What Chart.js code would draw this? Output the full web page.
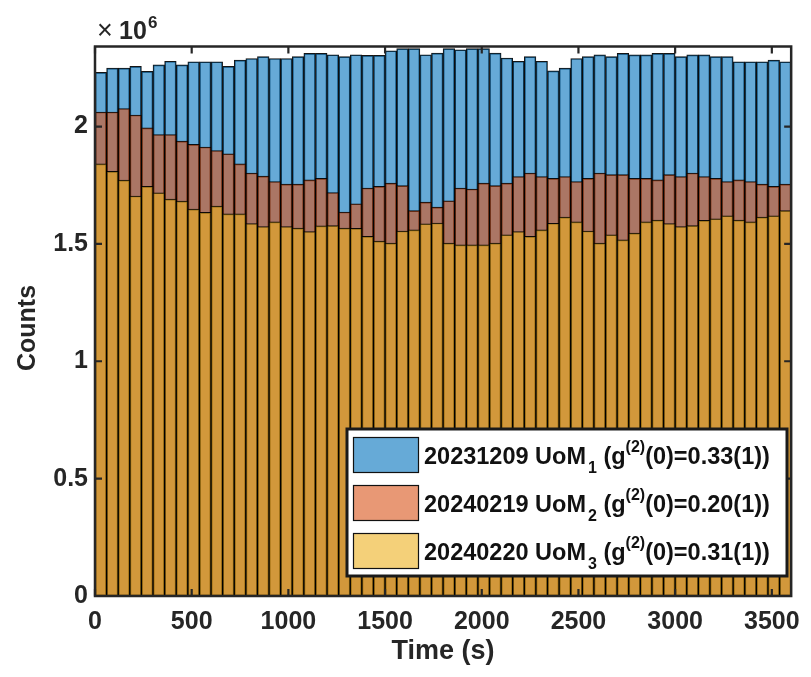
<!DOCTYPE html>
<html>
<head>
<meta charset="utf-8">
<script src="https://cdn.jsdelivr.net/npm/chart.js@4.4.1/dist/chart.umd.min.js"></script>
<style>
  html, body { margin: 0; padding: 0; background: #fff; }
  #wrap { width: 811px; height: 677px; }
</style>
</head>
<body>
<div id="wrap"><canvas id="histChart" width="811" height="677"></canvas></div>
<script>
// ================= DATA =================
// bin centres (s), 60 s bins from 0 to 3600
const timeBins = [
  30, 90, 150, 210, 270, 330, 390, 450, 510, 570,
  630, 690, 750, 810, 870, 930, 990, 1050, 1110, 1170,
  1230, 1290, 1350, 1410, 1470, 1530, 1590, 1650, 1710, 1770,
  1830, 1890, 1950, 2010, 2070, 2130, 2190, 2250, 2310, 2370,
  2430, 2490, 2550, 2610, 2670, 2730, 2790, 2850, 2910, 2970,
  3030, 3090, 3150, 3210, 3270, 3330, 3390, 3450, 3510, 3570
];

const countsUoM1 = [
  2231000, 2249000, 2249000, 2256000, 2235000, 2263000, 2278000, 2263000, 2276000, 2276000,
  2276000, 2256000, 2283000, 2290000, 2298000, 2290000, 2290000, 2298000, 2312000, 2312000,
  2306000, 2298000, 2306000, 2303000, 2303000, 2323000, 2332000, 2332000, 2306000, 2313000,
  2332000, 2327000, 2332000, 2332000, 2313000, 2292000, 2278000, 2298000, 2278000, 2237000,
  2249000, 2290000, 2298000, 2305000, 2298000, 2312000, 2305000, 2305000, 2312000, 2312000,
  2298000, 2305000, 2305000, 2298000, 2298000, 2276000, 2276000, 2276000, 2283000, 2276000
];

const countsUoM2 = [
  2062000, 2062000, 2077000, 2049000, 1994000, 1966000, 1966000, 1938000, 1924000, 1913000,
  1898000, 1884000, 1841000, 1802000, 1789000, 1766000, 1755000, 1755000, 1773000, 1779000,
  1719000, 1636000, 1671000, 1738000, 1745000, 1759000, 1748000, 1642000, 1678000, 1657000,
  1684000, 1738000, 1734000, 1759000, 1748000, 1759000, 1787000, 1802000, 1787000, 1779000,
  1787000, 1766000, 1779000, 1802000, 1795000, 1795000, 1779000, 1779000, 1773000, 1795000,
  1787000, 1802000, 1787000, 1779000, 1766000, 1773000, 1766000, 1755000, 1745000, 1755000
];

const countsUoM3 = [
  1841000, 1809000, 1772000, 1704000, 1745000, 1718000, 1691000, 1682000, 1648000, 1634000,
  1661000, 1628000, 1628000, 1587000, 1574000, 1594000, 1574000, 1567000, 1553000, 1577000,
  1578000, 1567000, 1566000, 1532000, 1512000, 1503000, 1555000, 1560000, 1586000, 1589000,
  1503000, 1496000, 1496000, 1496000, 1503000, 1539000, 1553000, 1532000, 1560000, 1588000,
  1614000, 1594000, 1555000, 1503000, 1539000, 1517000, 1546000, 1594000, 1601000, 1587000,
  1574000, 1578000, 1600000, 1607000, 1620000, 1601000, 1594000, 1614000, 1620000, 1642000
];

const legendLabels = [
  { name: "20231209 UoM", sub: "1", g2: "0.33(1)" },
  { name: "20240219 UoM", sub: "2", g2: "0.20(1)" },
  { name: "20240220 UoM", sub: "3", g2: "0.31(1)" }
];

const xTickValues = [0, 500, 1000, 1500, 2000, 2500, 3000, 3500];
const xTickLabels = ["0", "500", "1000", "1500", "2000", "2500", "3000", "3500"];
const yTickValues = [0, 500000, 1000000, 1500000, 2000000];
const yTickLabels = ["0", "0.5", "1", "1.5", "2"];

// ================= STYLE =================
const FONT = "'Liberation Sans', Arial, Helvetica, sans-serif";
const TXT = '#262626';
const fills = ['rgba(0,114,189,0.6)', 'rgba(217,83,25,0.6)', 'rgba(237,177,32,0.6)'];

function toPoints(vals) {
  return vals.map((v, i) => ({ x: timeBins[i], y: v }));
}

function makeSet(label, vals, color, order) {
  return {
    label: label,
    data: toPoints(vals),
    backgroundColor: color,
    borderColor: 'rgba(0,0,0,0.92)',
    borderWidth: 1,
    borderSkipped: false,
    barPercentage: 1,
    categoryPercentage: 1,
    grouped: false,
    order: order
  };
}

// ================= FRAME + LEGEND =================
const frame = {
  id: 'frame',
  afterDraw(chart) {
    const { ctx, chartArea: a, scales } = chart;
    const x = scales.x, y = scales.y;
    const tl = 7;
    ctx.save();
    ctx.strokeStyle = TXT;
    ctx.lineWidth = 2.5;
    ctx.strokeRect(a.left, a.top, a.right - a.left, a.bottom - a.top);

    ctx.lineWidth = 2.2;
    ctx.beginPath();
    x.ticks.forEach(t => {
      const px = x.getPixelForValue(t.value);
      ctx.moveTo(px, a.bottom); ctx.lineTo(px, a.bottom - tl);
      ctx.moveTo(px, a.top); ctx.lineTo(px, a.top + tl);
    });
    y.ticks.forEach(t => {
      const py = y.getPixelForValue(t.value);
      ctx.moveTo(a.left, py); ctx.lineTo(a.left + tl, py);
      ctx.moveTo(a.right, py); ctx.lineTo(a.right - tl, py);
    });
    ctx.stroke();

    // y axis title
    ctx.save();
    ctx.translate(28, 328);
    ctx.rotate(-Math.PI / 2);
    ctx.fillStyle = TXT;
    ctx.textAlign = 'center';
    ctx.textBaseline = 'middle';
    ctx.font = 'bold 25px ' + FONT;
    ctx.fillText('Counts', 0, 0);
    ctx.restore();

    // x10^6 exponent label
    ctx.fillStyle = TXT;
    ctx.textBaseline = 'alphabetic';
    ctx.textAlign = 'left';
    ctx.font = '27px ' + FONT;
    ctx.fillText('\u00d7', 97, 39);
    ctx.font = 'bold 25px ' + FONT;
    ctx.fillText('10', 119, 39);
    ctx.font = 'bold 17px ' + FONT;
    ctx.fillText('6', 148, 28);

    // legend
    const lx = 347, ly = 429, lw = 440, lh = 147;
    ctx.fillStyle = '#fff';
    ctx.fillRect(lx, ly, lw, lh);
    ctx.lineWidth = 3;
    ctx.strokeStyle = '#1a1a1a';
    ctx.strokeRect(lx, ly, lw, lh);

    legendLabels.forEach((item, i) => {
      const top = 437.5 + i * 48;
      ctx.fillStyle = fills[i];
      ctx.fillRect(353.5, top, 65, 35);
      ctx.lineWidth = 1.2;
      ctx.strokeStyle = '#111';
      ctx.strokeRect(353.5, top, 65, 35);

      const base = 463.5 + i * 48;
      let cx = 424;
      ctx.fillStyle = '#111';
      ctx.font = 'bold 23.5px ' + FONT;
      ctx.fillText(item.name, cx, base);
      cx += ctx.measureText(item.name).width + 2;
      ctx.font = 'bold 16px ' + FONT;
      ctx.fillText(item.sub, cx, base + 9);
      cx += ctx.measureText(item.sub).width;
      ctx.font = 'bold 23.5px ' + FONT;
      ctx.fillText(' (g', cx, base);
      cx += ctx.measureText(' (g').width;
      ctx.font = 'bold 16px ' + FONT;
      ctx.fillText('(2)', cx, base - 12);
      cx += ctx.measureText('(2)').width;
      ctx.font = 'bold 23.5px ' + FONT;
      ctx.fillText('(0)=' + item.g2 + ')', cx, base);
    });
    ctx.restore();
  }
};

// ================= CHART =================
const ctx = document.getElementById('histChart').getContext('2d');
const histChart = new Chart(ctx, {
  type: 'bar',
  data: {
    datasets: [
      makeSet('20231209 UoM1', countsUoM1, fills[0], 3),
      makeSet('20240219 UoM2', countsUoM2, fills[1], 2),
      makeSet('20240220 UoM3', countsUoM3, fills[2], 1)
    ]
  },
  options: {
    responsive: false,
    animation: false,
    devicePixelRatio: 1,
    layout: { padding: { top: 46.5, right: 13, left: 0, bottom: 0 } },
    plugins: { legend: { display: false }, tooltip: { enabled: false } },
    scales: {
      x: {
        type: 'linear',
        min: 0,
        max: 3600,
        offset: false,
        grid: { display: false, drawTicks: false },
        border: { display: false },
        afterBuildTicks(scale) { scale.ticks = xTickValues.map(v => ({ value: v })); },
        ticks: {
          autoSkip: false,
          maxRotation: 0,
          padding: 11,
          color: TXT,
          font: { family: FONT, size: 25, weight: 'bold' },
          callback: (v, i) => xTickLabels[i]
        },
        title: {
          display: true,
          text: 'Time (s)',
          color: TXT,
          padding: { top: 0, bottom: 9 },
          font: { family: FONT, size: 27, weight: 'bold' }
        },
        afterFit(scale) { scale.height = 81; }
      },
      y: {
        type: 'linear',
        min: 0,
        max: 2341000,
        grid: { display: false, drawTicks: false },
        border: { display: false },
        afterBuildTicks(scale) { scale.ticks = yTickValues.map(v => ({ value: v })); },
        ticks: {
          autoSkip: false,
          padding: 7,
          color: TXT,
          font: { family: FONT, size: 25, weight: 'bold' },
          callback: (v, i) => yTickLabels[i]
        },
        afterFit(scale) { scale.width = 95; }
      }
    }
  },
  plugins: [frame]
});
</script>
</body>
</html>
